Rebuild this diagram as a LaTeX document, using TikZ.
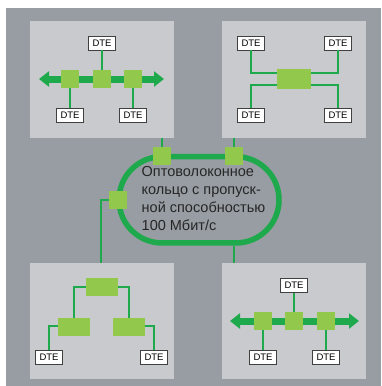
\documentclass[tikz,border=0pt]{standalone}
\usepackage{fontspec}
\setmainfont{Liberation Sans}
\usepackage{xcolor}
\usepackage{tikz}
\usetikzlibrary{arrows.meta, calc}
\definecolor{bgGray}{RGB}{151,157,163}
\definecolor{panelGray}{RGB}{201,202,206}
\definecolor{ringGreen}{RGB}{30,170,76}
\definecolor{boxGreen}{RGB}{146,200,75}

\begin{document}
\begin{tikzpicture}[x=1pt, y=-1pt,
  panel/.style={fill=panelGray, minimum width=144, minimum height=116.5, inner sep=0},
  dte/.style={draw=black!75, fill=white, line width=0.8pt, minimum width=27, minimum height=14, inner sep=0, font=\fontsize{9.5}{10}\selectfont},
  sq/.style={fill=boxGreen, minimum size=18, inner sep=0},
  hub/.style={fill=boxGreen, minimum width=32, minimum height=18, inner sep=0},
  link/.style={draw=ringGreen, line width=2.2pt},
  bus/.style={draw=ringGreen, line width=7pt, {Triangle[width=15pt,length=10pt]}-{Triangle[width=15pt,length=10pt]}},
  ring/.style={draw=ringGreen, line width=5.5pt, rounded corners=43pt, minimum width=160, minimum height=86.3, inner sep=0}
]
\useasboundingbox (0,0) rectangle (381,386);
\fill[bgGray] (6,8) rectangle (381,386);

% Panels
\node[panel] (tl) at (102,79.5) {};
\node[panel] (tr) at (294,79.5) {};
\node[panel] (bl) at (102,321) {};
\node[panel] (br) at (294,321) {};

% Fibre ring
\node[ring] (ring) at (199,199.8) {};
\node[align=left, anchor=north west, inner sep=0, font=\fontsize{14.5}{18}\selectfont, text=black!85] (ringtxt) at (141.5,166.5)
  {Оптоволоконное\\кольцо с пропуск-\\ной способностью\\100 Мбит/с};
\node[sq] (rq1) at (162,156) {};
\node[sq] (rq2) at (234,156) {};
\node[sq] (rq3) at (118,200) {};

% Ring taps
\draw[link] (rq1.north) -- (rq1.north |- tl.south);
\draw[link] (rq2.north) -- (rq2.north |- tr.south);
\draw[link] (rq3.west) -| ([xshift=-1pt]bl.north);
\draw[link] (ring.south -| rq2) -- (br.north -| rq2);

% Top-left: bus
\coordinate (tlW) at (39,79);
\coordinate (tlE) at (164,79);
\draw[bus] (tlW) -- (tlE);
\node[sq] (tlA) at (70,79) {};
\node[sq] (tlB) at (102,79) {};
\node[sq] (tlC) at (133,79) {};
\node[dte] (tlD1) at (102,43) {DTE};
\node[dte] (tlD2) at (70,115) {DTE};
\node[dte] (tlD3) at (133,115) {DTE};
\draw[link] (tlB.north) -- (tlD1.south);
\draw[link] (tlA.south) -- (tlD2.north);
\draw[link] (tlC.south) -- (tlD3.north);

% Top-right: star
\node[hub, minimum width=34, minimum height=20] (trH) at (294,79) {};
\node[dte] (trD1) at (251,43) {DTE};
\node[dte] (trD2) at (338,43) {DTE};
\node[dte] (trD3) at (251,115) {DTE};
\node[dte] (trD4) at (338,115) {DTE};
\draw[link] (trD1.south) |- ([yshift=6pt]trH.west);
\draw[link] (trD2.south) |- ([yshift=6pt]trH.east);
\draw[link] (trD3.north) |- ([yshift=-6pt]trH.west);
\draw[link] (trD4.north) |- ([yshift=-6pt]trH.east);

% Bottom-left: tree
\node[hub] (blH) at (102,287) {};
\node[hub] (blL) at (74,327) {};
\node[hub] (blR) at (129,327) {};
\node[dte] (blD1) at (49,357.5) {DTE};
\node[dte] (blD2) at (154,357.5) {DTE};
\draw[link] (blH.west) -| (blL.north);
\draw[link] (blH.east) -| (blR.north);
\draw[link] ([yshift=1pt]blL.west) -| (blD1.north);
\draw[link] ([yshift=1pt]blR.east) -| (blD2.north);

% Bottom-right: bus
\coordinate (brW) at (230,321);
\coordinate (brE) at (359,321);
\draw[bus] (brW) -- (brE);
\node[sq] (brA) at (263,321) {};
\node[sq] (brB) at (294,321) {};
\node[sq] (brC) at (326,321) {};
\node[dte] (brD1) at (294,285.5) {DTE};
\node[dte] (brD2) at (263,357.5) {DTE};
\node[dte] (brD3) at (326,357.5) {DTE};
\draw[link] (brB.north) -- (brD1.south);
\draw[link] (brA.south) -- (brD2.north);
\draw[link] (brC.south) -- (brD3.north);

\end{tikzpicture}
\end{document}
